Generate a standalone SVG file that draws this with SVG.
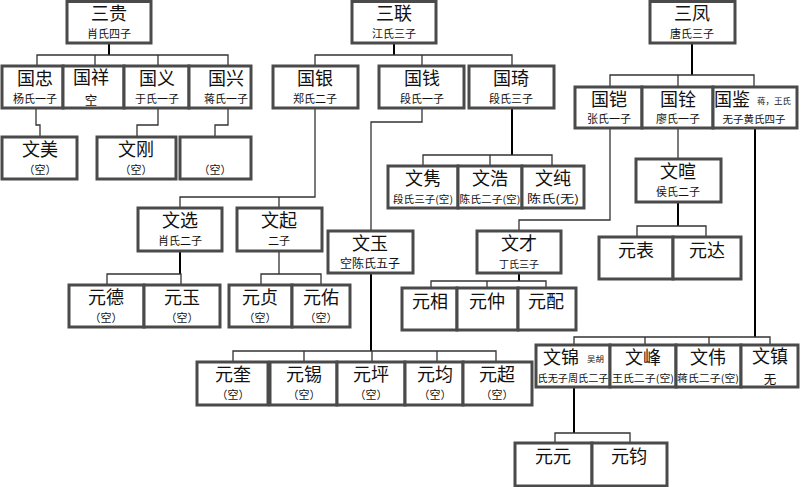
<svg xmlns="http://www.w3.org/2000/svg" width="801" height="487" viewBox="0 0 801 487">
<style>
.b{fill:#fff;stroke:#4a4a4a;stroke-width:3}
.t{font-family:"Noto Sans CJK SC","Noto Sans",sans-serif;font-size:18px;fill:#111;text-anchor:middle}
.s{font-family:"Noto Sans CJK SC","Noto Sans",sans-serif;font-size:11px;fill:#111;text-anchor:middle}
.x{font-family:"Noto Sans CJK SC","Noto Sans",sans-serif;font-size:8.5px;fill:#111}
.c{fill:none;stroke:#333;stroke-width:1.3}
.k{fill:none;stroke:#000;stroke-width:2}
</style>
<rect width="801" height="487" fill="#fff"/>
<g id="connectors">
<path class="k" d="M109,43V55"/>
<path class="c" d="M37,66V55H228V66M95,55V66M158,55V66"/>
<path class="c" d="M36,108V125H40V137"/>
<path class="c" d="M158,108V125H137V137"/>
<path class="c" d="M228,108V125H215V137"/>
<path class="k" d="M394,43V55"/>
<path class="c" d="M315,66V55H512V66M422,55V66"/>
<path class="c" d="M315,108V197H180V208M279,197V208"/>
<path class="k" d="M180,251V274"/>
<path class="c" d="M107,285V274H181V285"/>
<path class="c" d="M279,251V274M261,285V274H321V285"/>
<path class="c" d="M422,108V122H371V231"/>
<path class="k" d="M371,273V351"/>
<path class="c" d="M233,362V351H496V362M304,351V362M372,351V362M437,351V362"/>
<path class="k" d="M512,108V155"/>
<path class="c" d="M423,166V155H552V166M490,155V166"/>
<path class="k" d="M692,43V75"/>
<path class="c" d="M610,87V75H754V87M678,75V87"/>
<path class="c" d="M610,128V220H519V231"/>
<path class="k" d="M519,273V281"/>
<path class="c" d="M431,288V281H546V288M487,281V288"/>
<path class="c" d="M678,128V159"/>
<path class="k" d="M678,202V226"/>
<path class="c" d="M637,237V226H706V237"/>
<path class="k" d="M755,128V337"/>
<path class="c" d="M574,345V337H770V345M645,337V345M709,337V345"/>
<path class="k" d="M574,387V433"/>
<path class="c" d="M555,443V433H630V443"/>
</g>
<g id="sangui"><rect class="b" x="67" y="1.5" width="84" height="41.5"/><text class="t" x="109" y="20">三贵</text><text class="s" x="109" y="38">肖氏四子</text></g>
<g id="sanlian"><rect class="b" x="352" y="1.5" width="84" height="41.5"/><text class="t" x="394" y="20">三联</text><text class="s" x="394" y="38">江氏三子</text></g>
<g id="sanfeng"><rect class="b" x="650" y="1.5" width="85" height="41.5"/><text class="t" x="692" y="20">三凤</text><text class="s" x="692" y="38">唐氏三子</text></g>

<g id="guozhong"><rect class="b" x="2" y="66" width="61" height="42"/><text class="t" x="35" y="85">国忠</text><text class="s" x="35" y="103">杨氏一子</text></g>
<g id="guoxiang"><rect class="b" x="63" y="66" width="61" height="42"/><text class="t" x="91" y="84">国祥</text><text class="t" x="91" y="105" style="font-size:12.5px">空</text></g>
<g id="guoyi"><rect class="b" x="124" y="66" width="65" height="42"/><text class="t" x="157" y="85">国义</text><text class="s" x="157" y="103">于氏一子</text></g>
<g id="guoxing"><rect class="b" x="189" y="66" width="62" height="42"/><text class="t" x="226" y="85">国兴</text><text class="s" x="226" y="103">蒋氏一子</text></g>
<g id="guoyin"><rect class="b" x="273" y="66" width="85" height="42"/><text class="t" x="315" y="85">国银</text><text class="s" x="315" y="103">郑氏二子</text></g>
<g id="guoqian"><rect class="b" x="379" y="66" width="85" height="42"/><text class="t" x="422" y="85">国钱</text><text class="s" x="422" y="103">段氏一子</text></g>
<g id="guoqi"><rect class="b" x="469" y="66" width="85" height="42"/><text class="t" x="511" y="85">国琦</text><text class="s" x="511" y="103">段氏三子</text></g>
<g id="guokai"><rect class="b" x="575" y="87" width="67" height="41"/><text class="t" x="609" y="106">国铠</text><text class="s" x="609" y="123">张氏一子</text></g>
<g id="guoquan"><rect class="b" x="642" y="87" width="71" height="41"/><text class="t" x="678" y="106">国铨</text><text class="s" x="678" y="123">廖氏一子</text></g>
<g id="guojian"><rect class="b" x="713" y="87" width="84" height="41"/><text class="t" x="732" y="106">国鉴</text><text class="x" x="757" y="104">蒋，王氏</text><text class="s" x="754" y="123" style="font-size:10px" textLength="63" lengthAdjust="spacingAndGlyphs">无子黄氏四子</text></g>

<g id="wenmei"><rect class="b" x="2" y="137" width="75" height="42"/><text class="t" x="40" y="156">文美</text><text class="s" x="40" y="174">（空）</text></g>
<g id="wengang"><rect class="b" x="97" y="137" width="79" height="42"/><text class="t" x="136" y="156">文刚</text><text class="s" x="136" y="174">（空）</text></g>
<g id="kong"><rect class="b" x="180" y="137" width="71" height="42"/><text class="s" x="215" y="174">（空）</text></g>
<g id="wenjun"><rect class="b" x="388" y="166" width="70" height="42"/><text class="t" x="423" y="185">文隽</text><text class="s" x="423" y="203" style="font-size:10px" textLength="60" lengthAdjust="spacingAndGlyphs">段氏三子(空)</text></g>
<g id="wenhao"><rect class="b" x="458" y="166" width="64" height="42"/><text class="t" x="490" y="185">文浩</text><text class="s" x="490" y="203" style="font-size:10px" textLength="61" lengthAdjust="spacingAndGlyphs">陈氏二子(空)</text></g>
<g id="wenchun"><rect class="b" x="522" y="166" width="62" height="42"/><text class="t" x="553" y="185">文纯</text><text class="s" x="553" y="203" textLength="52" lengthAdjust="spacingAndGlyphs">陈氏(无)</text></g>
<g id="wenxuan"><rect class="b" x="636" y="159" width="85" height="43"/><text class="t" x="678" y="178">文暄</text><text class="s" x="678" y="196">侯氏二子</text></g>
<g id="wenxuan2"><rect class="b" x="138" y="208" width="84" height="43"/><text class="t" x="180" y="227">文选</text><text class="s" x="180" y="245">肖氏二子</text></g>
<g id="wenqi"><rect class="b" x="237" y="208" width="85" height="43"/><text class="t" x="279" y="227">文起</text><text class="s" x="279" y="245">二子</text></g>
<g id="wenyu"><rect class="b" x="328" y="231" width="85" height="42"/><text class="t" x="370" y="250">文玉</text><text class="s" x="370" y="268" style="font-size:12px">空陈氏五子</text></g>
<g id="wencai"><rect class="b" x="477" y="231" width="84" height="42"/><text class="t" x="519" y="250">文才</text><text class="s" x="519" y="268" style="font-size:10px">丁氏三子</text></g>
<g id="yuanbiao"><rect class="b" x="599" y="237" width="74" height="42"/><text class="t" x="636" y="257">元表</text></g>
<g id="yuanda"><rect class="b" x="673" y="237" width="68" height="42"/><text class="t" x="707" y="257">元达</text></g>

<g id="yuande"><rect class="b" x="69" y="285" width="75" height="42"/><text class="t" x="106" y="304">元德</text><text class="s" x="106" y="322">（空）</text></g>
<g id="yuanyu"><rect class="b" x="144" y="285" width="76" height="42"/><text class="t" x="182" y="304">元玉</text><text class="s" x="182" y="322">（空）</text></g>
<g id="yuanzhen"><rect class="b" x="229" y="285" width="63" height="42"/><text class="t" x="260" y="304">元贞</text><text class="s" x="260" y="322">（空）</text></g>
<g id="yuanyou"><rect class="b" x="292" y="285" width="58" height="42"/><text class="t" x="321" y="304">元佑</text><text class="s" x="321" y="322">（空）</text></g>
<g id="yuanxiang"><rect class="b" x="402" y="288" width="55" height="42"/><text class="t" x="430" y="308">元相</text></g>
<g id="yuanzhong"><rect class="b" x="457" y="288" width="61" height="42"/><text class="t" x="487" y="308">元仲</text></g>
<g id="yuanpei"><rect class="b" x="518" y="288" width="58" height="42"/><text class="t" x="546" y="308">元配</text></g>

<g id="wenjin"><rect class="b" x="536" y="345" width="74" height="42"/><text class="t" x="561" y="364">文锦</text><text class="x" x="587" y="362">吴胡</text><text class="s" x="573" y="382" style="font-size:10px" textLength="71" lengthAdjust="spacingAndGlyphs">氏无子周氏二子</text></g>
<g id="wenfeng"><rect class="b" x="610" y="345" width="66" height="42"/><text class="t" x="643" y="364">文峰</text><text class="s" x="643" y="382" style="font-size:10px" textLength="62" lengthAdjust="spacingAndGlyphs">王氏二子(空)</text></g>
<g id="wenwei"><rect class="b" x="676" y="345" width="65" height="42"/><text class="t" x="708" y="364">文伟</text><text class="s" x="708" y="382" style="font-size:10px" textLength="62" lengthAdjust="spacingAndGlyphs">蒋氏二子(空)</text></g>
<g id="wenzhen"><rect class="b" x="741" y="345" width="57" height="42"/><text class="t" x="770" y="363">文镇</text><text class="t" x="770" y="384" style="font-size:12.5px">无</text></g>

<g id="yuankui"><rect class="b" x="197" y="362" width="71" height="43"/><text class="t" x="233" y="381">元奎</text><text class="s" x="233" y="399">（空）</text></g>
<g id="yuanxi"><rect class="b" x="270" y="362" width="67" height="43"/><text class="t" x="304" y="381">元锡</text><text class="s" x="304" y="399">（空）</text></g>
<g id="yuanping"><rect class="b" x="337" y="362" width="68" height="43"/><text class="t" x="371" y="381">元坪</text><text class="s" x="371" y="399">（空）</text></g>
<g id="yuanjun"><rect class="b" x="405" y="362" width="58" height="43"/><text class="t" x="435" y="381">元均</text><text class="s" x="435" y="399">（空）</text></g>
<g id="yuanchao"><rect class="b" x="463" y="362" width="69" height="43"/><text class="t" x="497" y="381">元超</text><text class="s" x="497" y="399">（空）</text></g>

<g id="yuanyuan"><rect class="b" x="515" y="443" width="77" height="43"/><text class="t" x="553" y="463">元元</text></g>
<g id="yuanjun2"><rect class="b" x="592" y="443" width="75" height="43"/><text class="t" x="629" y="463">元钧</text></g>
</svg>
